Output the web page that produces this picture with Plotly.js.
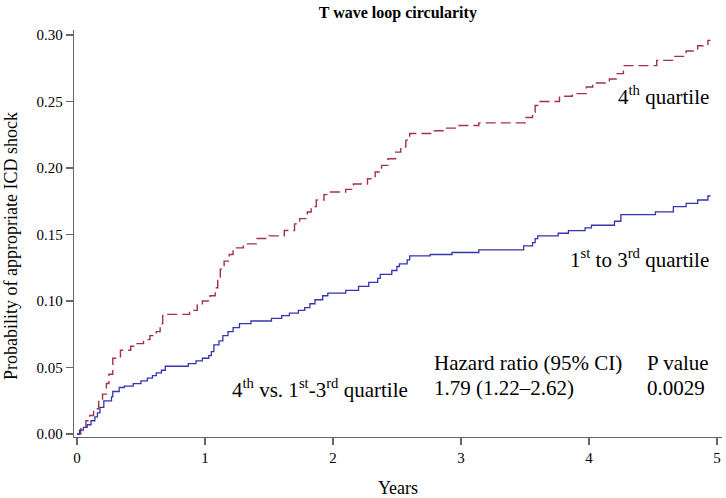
<!DOCTYPE html>
<html>
<head>
<meta charset="utf-8">
<script src="https://cdn.plot.ly/plotly-3.0.1.min.js"></script>
<style>html,body{margin:0;padding:0;background:#fff;}#chart{width:726px;height:498px;}</style>
</head>
<body>
<div id="chart"></div>
<script>
// 4th quartile (step function event times, cumulative probability)
const q4Times = [0,0.03,0.07,0.10,0.13,0.17,0.20,0.23,0.25,0.28,0.34,0.42,0.47,0.52,0.57,0.62,0.65,0.67,0.88,0.94,0.98,1.04,1.08,1.10,1.12,1.15,1.19,1.22,1.30,1.40,1.50,1.62,1.70,1.74,1.80,1.83,1.87,1.93,1.96,2.10,2.16,2.27,2.33,2.38,2.43,2.49,2.53,2.57,2.60,2.77,2.86,2.98,3.14,3.50,3.56,3.58,3.60,3.77,3.87,3.98,4.03,4.16,4.22,4.27,4.53,4.66,4.76,4.85,4.93,4.95];
const q4Prob = [0,0.005,0.010,0.014,0.019,0.025,0.030,0.038,0.045,0.057,0.063,0.066,0.068,0.071,0.074,0.077,0.083,0.090,0.093,0.097,0.100,0.104,0.110,0.118,0.124,0.130,0.135,0.140,0.143,0.147,0.149,0.153,0.158,0.162,0.167,0.171,0.176,0.180,0.182,0.184,0.188,0.192,0.197,0.202,0.207,0.212,0.216,0.221,0.226,0.228,0.230,0.232,0.234,0.238,0.242,0.247,0.250,0.254,0.256,0.261,0.264,0.267,0.271,0.277,0.281,0.284,0.288,0.292,0.296,0.296];
// 1st to 3rd quartile
const q13Times = [0,0.02,0.05,0.08,0.11,0.14,0.16,0.18,0.21,0.27,0.28,0.33,0.37,0.44,0.50,0.55,0.59,0.62,0.66,0.69,0.87,0.93,0.98,1.03,1.05,1.07,1.11,1.14,1.18,1.22,1.27,1.36,1.52,1.60,1.66,1.73,1.78,1.82,1.86,1.92,1.96,2.10,2.20,2.28,2.35,2.37,2.46,2.50,2.52,2.58,2.60,2.76,2.93,3.14,3.49,3.56,3.58,3.60,3.76,3.84,3.97,4.02,4.20,4.25,4.52,4.66,4.76,4.85,4.93,4.95];
const q13Prob = [0,0.003,0.005,0.007,0.010,0.013,0.016,0.020,0.025,0.028,0.032,0.035,0.036,0.038,0.040,0.042,0.044,0.046,0.048,0.051,0.053,0.055,0.057,0.059,0.062,0.067,0.070,0.074,0.077,0.080,0.083,0.085,0.087,0.089,0.091,0.093,0.095,0.098,0.101,0.104,0.106,0.108,0.111,0.114,0.117,0.120,0.123,0.126,0.128,0.131,0.134,0.135,0.1365,0.1385,0.1415,0.144,0.147,0.149,0.151,0.153,0.155,0.157,0.160,0.165,0.167,0.171,0.1735,0.176,0.179,0.179];

const xTicks = [0,1,2,3,4,5];
const yTicks = [0,0.05,0.10,0.15,0.20,0.25,0.30];
const yTickLabels = ["0.00","0.05","0.10","0.15","0.20","0.25","0.30"];

const serif = "Liberation Serif, Times New Roman, serif";

const traces = [
  {x:q4Times, y:q4Prob, type:'scatter', mode:'lines', line:{shape:'hv', color:'#a3304c', width:1.4, dash:'10px,5px'}, hoverinfo:'skip'},
  {x:q13Times, y:q13Prob, type:'scatter', mode:'lines', line:{shape:'hv', color:'#3535ad', width:1.3}, hoverinfo:'skip'}
];

const ann = (x, y, text, xanchor) => ({x:x, y:y, xref:'paper', yref:'paper', text:text, showarrow:false, xanchor:xanchor||'left', yanchor:'middle', font:{family:serif, size:21, color:'#000'}});

const W = 648, H = 407; // plot area in px for paper conversion
const px = v => (v - 74) / W;
const py = v => (437 - v) / H;

const layout = {
  width:726, height:498,
  margin:{l:74, r:4, t:30, b:61},
  paper_bgcolor:'#fff', plot_bgcolor:'#fff',
  showlegend:false,
  title:{text:'<b>T wave loop circularity</b>', font:{family:serif, size:16, color:'#000'}, x:0.548, xanchor:'center', y:0.976, yanchor:'middle'},
  xaxis:{range:[-0.023,5.04], tickvals:xTicks, ticktext:xTicks.map(String), showgrid:false, zeroline:false, showline:true, linecolor:'#666', linewidth:1.3, ticks:'outside', ticklen:7, tickcolor:'#666', tickwidth:1.3, tickfont:{family:serif, size:15, color:'#000'},
    title:{text:'Years', font:{family:serif, size:18, color:'#000'}, standoff:17}},
  yaxis:{range:[-0.0022,0.3038], tickvals:yTicks, ticktext:yTickLabels, showgrid:false, zeroline:false, showline:true, linecolor:'#666', linewidth:1.3, ticks:'outside', ticklen:7, tickcolor:'#666', tickwidth:1.3, tickfont:{family:serif, size:15, color:'#000'}},
  annotations:[
    {x:px(11), y:py(246), xref:'paper', yref:'paper', text:'Probability of appropriate ICD shock', textangle:-90, showarrow:false, xanchor:'center', yanchor:'middle', font:{family:serif, size:18, color:'#000'}},
    ann(px(711), py(95), '4<sup>th</sup> quartile', 'right'),
    ann(px(711), py(258), '1<sup>st</sup> to 3<sup>rd</sup> quartile', 'right'),
    ann(px(432), py(363), 'Hazard ratio (95% CI)'),
    ann(px(645), py(363), 'P value'),
    ann(px(410), py(388), '4<sup>th</sup> vs. 1<sup>st</sup>-3<sup>rd</sup> quartile', 'right'),
    ann(px(432), py(388), '1.79 (1.22–2.62)'),
    ann(px(645), py(388), '0.0029')
  ]
};

Plotly.newPlot('chart', traces, layout, {staticPlot:true, displayModeBar:false});
</script>
</body>
</html>
